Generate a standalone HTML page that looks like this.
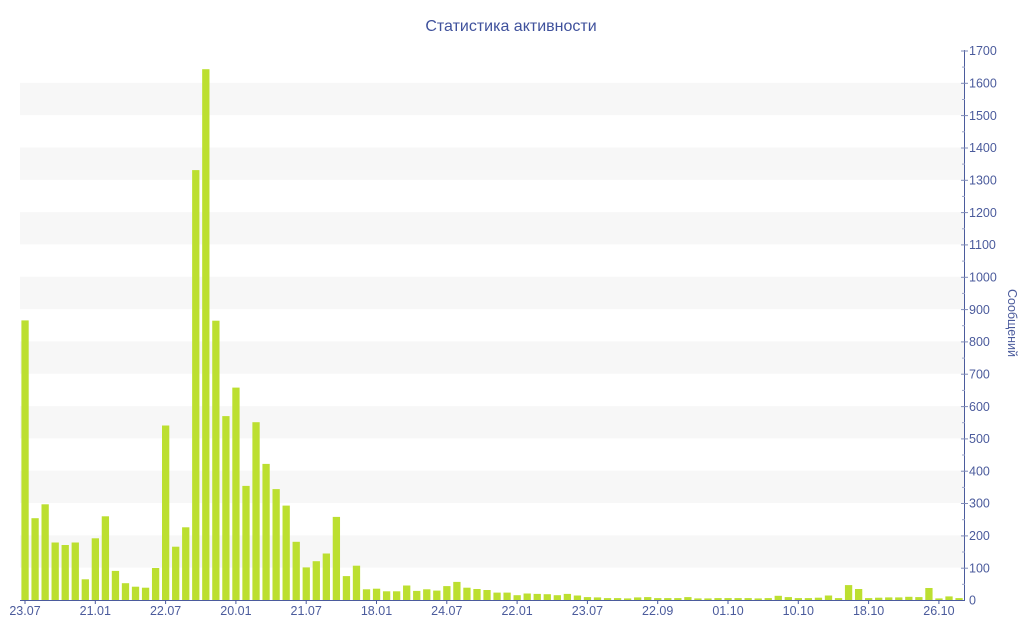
<!DOCTYPE html>
<html><head><meta charset="utf-8"><style>
html,body{margin:0;padding:0;background:#fff;}
svg{display:block;}
text{font-family:"Liberation Sans","DejaVu Sans",sans-serif;}
</style></head><body>
<svg width="1024" height="640" viewBox="0 0 1024 640" xmlns="http://www.w3.org/2000/svg">
<rect width="1024" height="640" fill="#fff"/>
<g fill="#f7f7f7">
<rect x="20" y="535.35" width="944" height="32.32"/>
<rect x="20" y="470.70" width="944" height="32.32"/>
<rect x="20" y="406.06" width="944" height="32.32"/>
<rect x="20" y="341.41" width="944" height="32.32"/>
<rect x="20" y="276.76" width="944" height="32.32"/>
<rect x="20" y="212.11" width="944" height="32.32"/>
<rect x="20" y="147.46" width="944" height="32.32"/>
<rect x="20" y="82.82" width="944" height="32.32"/>
</g>
<text x="511" y="31" text-anchor="middle" font-size="16" fill="#3f519c">Статистика активности</text>
<g fill="#bcdf30">
<rect x="21.40" y="320.4" width="7.3" height="279.6"/>
<rect x="31.44" y="518.2" width="7.3" height="81.8"/>
<rect x="41.49" y="504.3" width="7.3" height="95.7"/>
<rect x="51.53" y="542.5" width="7.3" height="57.5"/>
<rect x="61.57" y="545.0" width="7.3" height="55.0"/>
<rect x="71.62" y="542.5" width="7.3" height="57.5"/>
<rect x="81.66" y="579.3" width="7.3" height="20.7"/>
<rect x="91.70" y="538.3" width="7.3" height="61.7"/>
<rect x="101.74" y="516.3" width="7.3" height="83.7"/>
<rect x="111.79" y="570.9" width="7.3" height="29.1"/>
<rect x="121.83" y="583.2" width="7.3" height="16.8"/>
<rect x="131.87" y="586.7" width="7.3" height="13.3"/>
<rect x="141.92" y="587.7" width="7.3" height="12.3"/>
<rect x="151.96" y="568.0" width="7.3" height="32.0"/>
<rect x="162.00" y="425.5" width="7.3" height="174.5"/>
<rect x="172.05" y="546.7" width="7.3" height="53.3"/>
<rect x="182.09" y="527.3" width="7.3" height="72.7"/>
<rect x="192.13" y="170.1" width="7.3" height="429.9"/>
<rect x="202.17" y="69.2" width="7.3" height="530.8"/>
<rect x="212.22" y="320.7" width="7.3" height="279.3"/>
<rect x="222.26" y="416.1" width="7.3" height="183.9"/>
<rect x="232.30" y="387.6" width="7.3" height="212.4"/>
<rect x="242.35" y="485.9" width="7.3" height="114.1"/>
<rect x="252.39" y="422.2" width="7.3" height="177.8"/>
<rect x="262.43" y="463.9" width="7.3" height="136.1"/>
<rect x="272.48" y="489.1" width="7.3" height="110.9"/>
<rect x="282.52" y="505.6" width="7.3" height="94.4"/>
<rect x="292.56" y="541.8" width="7.3" height="58.2"/>
<rect x="302.60" y="567.4" width="7.3" height="32.6"/>
<rect x="312.65" y="561.2" width="7.3" height="38.8"/>
<rect x="322.69" y="553.5" width="7.3" height="46.5"/>
<rect x="332.73" y="516.9" width="7.3" height="83.1"/>
<rect x="342.78" y="576.1" width="7.3" height="23.9"/>
<rect x="352.82" y="565.7" width="7.3" height="34.3"/>
<rect x="362.86" y="589.3" width="7.3" height="10.7"/>
<rect x="372.91" y="588.7" width="7.3" height="11.3"/>
<rect x="382.95" y="591.3" width="7.3" height="8.7"/>
<rect x="392.99" y="591.3" width="7.3" height="8.7"/>
<rect x="403.03" y="585.5" width="7.3" height="14.5"/>
<rect x="413.08" y="590.9" width="7.3" height="9.1"/>
<rect x="423.12" y="589.3" width="7.3" height="10.7"/>
<rect x="433.16" y="590.6" width="7.3" height="9.4"/>
<rect x="443.21" y="586.1" width="7.3" height="13.9"/>
<rect x="453.25" y="581.9" width="7.3" height="18.1"/>
<rect x="463.29" y="587.7" width="7.3" height="12.3"/>
<rect x="473.34" y="589.0" width="7.3" height="11.0"/>
<rect x="483.38" y="590.0" width="7.3" height="10.0"/>
<rect x="493.42" y="592.6" width="7.3" height="7.4"/>
<rect x="503.46" y="592.6" width="7.3" height="7.4"/>
<rect x="513.51" y="595.2" width="7.3" height="4.8"/>
<rect x="523.55" y="593.5" width="7.3" height="6.5"/>
<rect x="533.59" y="593.9" width="7.3" height="6.1"/>
<rect x="543.64" y="594.2" width="7.3" height="5.8"/>
<rect x="553.68" y="595.2" width="7.3" height="4.8"/>
<rect x="563.72" y="593.9" width="7.3" height="6.1"/>
<rect x="573.77" y="595.5" width="7.3" height="4.5"/>
<rect x="583.81" y="597.1" width="7.3" height="2.9"/>
<rect x="593.85" y="597.4" width="7.3" height="2.6"/>
<rect x="603.89" y="598.1" width="7.3" height="1.9"/>
<rect x="613.94" y="598.1" width="7.3" height="1.9"/>
<rect x="623.98" y="598.4" width="7.3" height="1.6"/>
<rect x="634.02" y="597.4" width="7.3" height="2.6"/>
<rect x="644.07" y="597.1" width="7.3" height="2.9"/>
<rect x="654.11" y="598.1" width="7.3" height="1.9"/>
<rect x="664.15" y="598.1" width="7.3" height="1.9"/>
<rect x="674.20" y="598.1" width="7.3" height="1.9"/>
<rect x="684.24" y="597.1" width="7.3" height="2.9"/>
<rect x="694.28" y="598.4" width="7.3" height="1.6"/>
<rect x="704.32" y="598.4" width="7.3" height="1.6"/>
<rect x="714.37" y="598.1" width="7.3" height="1.9"/>
<rect x="724.41" y="598.1" width="7.3" height="1.9"/>
<rect x="734.45" y="598.1" width="7.3" height="1.9"/>
<rect x="744.50" y="598.1" width="7.3" height="1.9"/>
<rect x="754.54" y="598.4" width="7.3" height="1.6"/>
<rect x="764.58" y="598.1" width="7.3" height="1.9"/>
<rect x="774.62" y="595.8" width="7.3" height="4.2"/>
<rect x="784.67" y="597.1" width="7.3" height="2.9"/>
<rect x="794.71" y="598.1" width="7.3" height="1.9"/>
<rect x="804.75" y="598.1" width="7.3" height="1.9"/>
<rect x="814.80" y="597.7" width="7.3" height="2.3"/>
<rect x="824.84" y="595.5" width="7.3" height="4.5"/>
<rect x="834.88" y="598.1" width="7.3" height="1.9"/>
<rect x="844.93" y="585.1" width="7.3" height="14.9"/>
<rect x="854.97" y="589.0" width="7.3" height="11.0"/>
<rect x="865.01" y="598.1" width="7.3" height="1.9"/>
<rect x="875.05" y="597.7" width="7.3" height="2.3"/>
<rect x="885.10" y="597.4" width="7.3" height="2.6"/>
<rect x="895.14" y="597.4" width="7.3" height="2.6"/>
<rect x="905.18" y="596.8" width="7.3" height="3.2"/>
<rect x="915.23" y="597.1" width="7.3" height="2.9"/>
<rect x="925.27" y="588.0" width="7.3" height="12.0"/>
<rect x="935.31" y="598.4" width="7.3" height="1.6"/>
<rect x="945.36" y="596.4" width="7.3" height="3.6"/>
<rect x="955.40" y="598.1" width="7.3" height="1.9"/>
</g>
<g stroke="#4b5b9c" stroke-width="1" fill="none">
<line x1="20" y1="600.5" x2="965" y2="600.5"/>
<line x1="964.5" y1="50" x2="964.5" y2="601"/>
<line x1="25.0" y1="600" x2="25.0" y2="604"/>
<line x1="95.3" y1="600" x2="95.3" y2="604"/>
<line x1="165.6" y1="600" x2="165.6" y2="604"/>
<line x1="235.9" y1="600" x2="235.9" y2="604"/>
<line x1="306.2" y1="600" x2="306.2" y2="604"/>
<line x1="376.5" y1="600" x2="376.5" y2="604"/>
<line x1="446.8" y1="600" x2="446.8" y2="604"/>
<line x1="517.1" y1="600" x2="517.1" y2="604"/>
<line x1="587.4" y1="600" x2="587.4" y2="604"/>
<line x1="657.7" y1="600" x2="657.7" y2="604"/>
<line x1="728.0" y1="600" x2="728.0" y2="604"/>
<line x1="798.3" y1="600" x2="798.3" y2="604"/>
<line x1="868.6" y1="600" x2="868.6" y2="604"/>
<line x1="938.9" y1="600" x2="938.9" y2="604"/>
</g>
<g stroke="#7f8bb8" stroke-width="1">
<line x1="961" y1="568.2" x2="968" y2="568.2"/>
<line x1="961" y1="535.9" x2="968" y2="535.9"/>
<line x1="961" y1="503.5" x2="968" y2="503.5"/>
<line x1="961" y1="471.2" x2="968" y2="471.2"/>
<line x1="961" y1="438.9" x2="968" y2="438.9"/>
<line x1="961" y1="406.6" x2="968" y2="406.6"/>
<line x1="961" y1="374.2" x2="968" y2="374.2"/>
<line x1="961" y1="341.9" x2="968" y2="341.9"/>
<line x1="961" y1="309.6" x2="968" y2="309.6"/>
<line x1="961" y1="277.3" x2="968" y2="277.3"/>
<line x1="961" y1="244.9" x2="968" y2="244.9"/>
<line x1="961" y1="212.6" x2="968" y2="212.6"/>
<line x1="961" y1="180.3" x2="968" y2="180.3"/>
<line x1="961" y1="148.0" x2="968" y2="148.0"/>
<line x1="961" y1="115.6" x2="968" y2="115.6"/>
<line x1="961" y1="83.3" x2="968" y2="83.3"/>
<line x1="961" y1="51.0" x2="968" y2="51.0"/>
</g>
<g stroke="#9aa3c8" stroke-width="1">
<line x1="962" y1="584.3" x2="965" y2="584.3"/>
<line x1="962" y1="552.0" x2="965" y2="552.0"/>
<line x1="962" y1="519.7" x2="965" y2="519.7"/>
<line x1="962" y1="487.4" x2="965" y2="487.4"/>
<line x1="962" y1="455.0" x2="965" y2="455.0"/>
<line x1="962" y1="422.7" x2="965" y2="422.7"/>
<line x1="962" y1="390.4" x2="965" y2="390.4"/>
<line x1="962" y1="358.1" x2="965" y2="358.1"/>
<line x1="962" y1="325.7" x2="965" y2="325.7"/>
<line x1="962" y1="293.4" x2="965" y2="293.4"/>
<line x1="962" y1="261.1" x2="965" y2="261.1"/>
<line x1="962" y1="228.8" x2="965" y2="228.8"/>
<line x1="962" y1="196.4" x2="965" y2="196.4"/>
<line x1="962" y1="164.1" x2="965" y2="164.1"/>
<line x1="962" y1="131.8" x2="965" y2="131.8"/>
<line x1="962" y1="99.5" x2="965" y2="99.5"/>
<line x1="962" y1="67.1" x2="965" y2="67.1"/>
</g>
<g font-size="12.5" fill="#4b5b9c" text-anchor="start">
<text x="969" y="604.7">0</text>
<text x="969" y="572.4">100</text>
<text x="969" y="540.1">200</text>
<text x="969" y="507.7">300</text>
<text x="969" y="475.4">400</text>
<text x="969" y="443.1">500</text>
<text x="969" y="410.8">600</text>
<text x="969" y="378.4">700</text>
<text x="969" y="346.1">800</text>
<text x="969" y="313.8">900</text>
<text x="969" y="281.5">1000</text>
<text x="969" y="249.1">1100</text>
<text x="969" y="216.8">1200</text>
<text x="969" y="184.5">1300</text>
<text x="969" y="152.2">1400</text>
<text x="969" y="119.8">1500</text>
<text x="969" y="87.5">1600</text>
<text x="969" y="55.2">1700</text>
</g>
<g font-size="12.5" fill="#4b5b9c" text-anchor="middle">
<text x="25.0" y="615">23.07</text>
<text x="95.3" y="615">21.01</text>
<text x="165.6" y="615">22.07</text>
<text x="235.9" y="615">20.01</text>
<text x="306.2" y="615">21.07</text>
<text x="376.5" y="615">18.01</text>
<text x="446.8" y="615">24.07</text>
<text x="517.1" y="615">22.01</text>
<text x="587.4" y="615">23.07</text>
<text x="657.7" y="615">22.09</text>
<text x="728.0" y="615">01.10</text>
<text x="798.3" y="615">10.10</text>
<text x="868.6" y="615">18.10</text>
<text x="938.9" y="615">26.10</text>
</g>
<text x="0" y="0" font-size="12.5" fill="#4b5b9c" text-anchor="middle" transform="translate(1008,323) rotate(90)">Сообщений</text>
</svg>
</body></html>
